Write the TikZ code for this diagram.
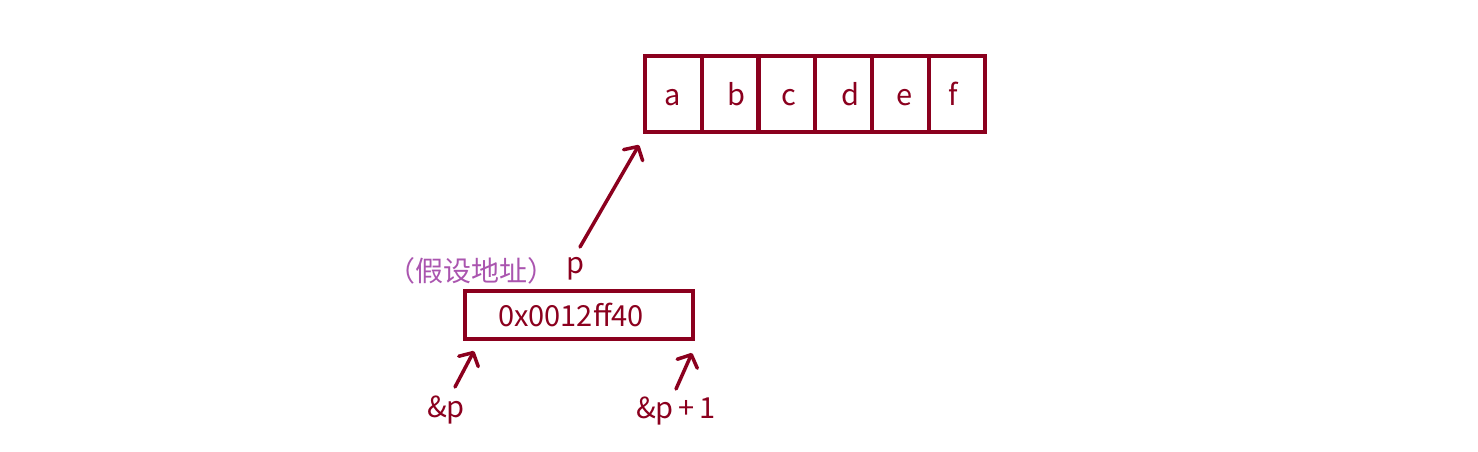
\documentclass[tikz,border=0pt]{standalone}
\usepackage{fontspec}
\setmainfont{Noto Sans CJK SC}
\newfontfamily\cjk{Noto Sans CJK SC}
\usetikzlibrary{arrows.meta}
\definecolor{dred}{RGB}{139,0,30}
\definecolor{lpurple}{RGB}{170,85,175}
\tikzset{
  cell/.style={draw=dred,line width=4pt,minimum width=57pt,minimum height=76pt,inner sep=0pt},
  lbl/.style={text=dred,font=\fontsize{29}{34}\selectfont,inner sep=0pt},
  arr/.style={draw=dred,line width=3.5pt,line cap=round,-{Straight Barb[length=10pt,width=22pt,line width=3.5pt,round]}},
}
\begin{document}
\begin{tikzpicture}[x=1pt,y=-1pt]
\useasboundingbox (0,0) rectangle (1478,452);
% array
\node[cell,minimum width=57pt] (ca) at (673,94) {};
\node[cell,minimum width=57pt] (cb) at (730,94) {};
\node[cell,minimum width=57pt] (cc) at (786,94) {};
\node[cell,minimum width=57pt] (cd) at (843,94) {};
\node[cell,minimum width=57pt] (ce) at (900,94) {};
\node[cell,minimum width=56pt] (cf) at (956.5,94) {};
\node[lbl,anchor=base] (ta) at (673,105) {a};
\node[lbl,anchor=base] (tb) at (736,105) {b};
\node[lbl,anchor=base] (tc) at (789,105) {c};
\node[lbl,anchor=base] (td) at (850,105) {d};
\node[lbl,anchor=base] (te) at (905,105) {e};
\node[lbl,anchor=base] (tf) at (953,105) {f};
% address box
\node[draw=dred,line width=4pt,minimum width=228pt,minimum height=48pt,inner sep=0pt] (addr) at (579,315) {};
\node[lbl,anchor=base] (addrt) at (571,326) {0x0012ff40};
\node[text=lpurple,font=\fontsize{28}{32}\selectfont\cjk,inner sep=0pt,anchor=base] (assume) at (471,281) {（假设地址）};
\node[lbl,anchor=base] (p) at (575,273) {p};
\node[lbl,anchor=base west] (ap) at (427,417) {\&p};
\node[lbl,anchor=base west] (ap1) at (636,418) {\&p\,+\,1};
\coordinate (s1) at (580,247);
\coordinate (e1) at (639,145);
\coordinate (s2) at (455,387);
\coordinate (e2) at (474,351);
\coordinate (s3) at (676,389);
\coordinate (e3) at (692,353);
\draw[arr] (s1) -- (e1);
\draw[arr] (s2) -- (e2);
\draw[arr] (s3) -- (e3);
\end{tikzpicture}
\end{document}
